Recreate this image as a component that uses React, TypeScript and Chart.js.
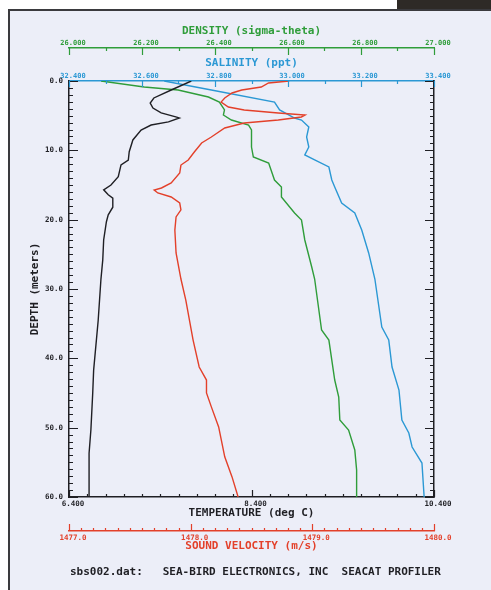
import React, { useEffect, useRef } from 'react';
import { Chart, registerables } from 'chart.js';

Chart.register(...registerables);

// ---- Data ----
const DEPTH_TICKS = [0, 10, 20, 30, 40, 50, 60];
const TEMP_TICKS = [6.4, 8.4, 10.4];
const SV_TICKS = [1477.0, 1478.0, 1479.0, 1480.0];
const DENSITY_TICKS = [26.0, 26.2, 26.4, 26.6, 26.8, 27.0];
const SALINITY_TICKS = [32.4, 32.6, 32.8, 33.0, 33.2, 33.4];

const TEMP_DEPTH = [0, 1.3, 2.45, 3.17, 3.9, 4.6, 5.2, 5.34, 5.9, 6.35, 7.07, 8.5, 10.2, 11.4, 12.1, 13.8, 15.0, 15.7, 16.4, 16.9, 18.2, 19.3, 20.3, 22.9, 25.8, 28.6, 34.5, 41.7, 45.0, 50.3, 53.7, 60];
const TEMP_VALUES = [7.74, 7.52, 7.33, 7.29, 7.32, 7.41, 7.58, 7.61, 7.49, 7.30, 7.19, 7.10, 7.06, 7.05, 6.97, 6.94, 6.86, 6.78, 6.83, 6.88, 6.88, 6.83, 6.81, 6.78, 6.77, 6.75, 6.72, 6.67, 6.66, 6.64, 6.62, 6.62];

const SAL_DEPTH = [0, 1.3, 3.03, 4.18, 5.34, 5.63, 6.63, 8.08, 9.52, 10.67, 11.39, 12.4, 14.28, 15.29, 17.6, 19.04, 21.49, 24.8, 28.56, 35.48, 37.36, 41.25, 44.57, 48.9, 50.77, 52.79, 55.1, 60];
const SAL_VALUES = [32.661, 32.790, 32.963, 32.977, 33.018, 33.037, 33.057, 33.051, 33.057, 33.046, 33.073, 33.112, 33.120, 33.128, 33.147, 33.183, 33.202, 33.221, 33.238, 33.257, 33.276, 33.285, 33.304, 33.312, 33.331, 33.340, 33.367, 33.373];

const DEN_DEPTH = [0, 0.87, 1.3, 2.31, 3.03, 4.18, 4.9, 5.63, 6.35, 7.07, 9.52, 10.96, 11.83, 14.28, 15.29, 16.73, 19.04, 20.05, 22.93, 26.83, 28.56, 35.91, 37.36, 43.13, 45.58, 48.9, 50.34, 53.22, 56.1, 60];
const DEN_VALUES = [26.088, 26.206, 26.299, 26.382, 26.412, 26.426, 26.423, 26.445, 26.492, 26.500, 26.500, 26.505, 26.547, 26.563, 26.582, 26.582, 26.618, 26.637, 26.646, 26.665, 26.673, 26.692, 26.712, 26.728, 26.739, 26.742, 26.766, 26.783, 26.788, 26.788];

const SV_DEPTH = [0, 0.29, 0.87, 1.3, 1.73, 2.45, 3.03, 3.75, 4.18, 4.62, 4.9, 5.19, 5.63, 6.06, 6.78, 8.08, 8.94, 10.24, 11.39, 12.12, 13.27, 14.71, 15.43, 15.72, 16.15, 16.73, 17.6, 18.6, 19.6, 21.5, 24.8, 28.56, 31.6, 37.36, 41.25, 43.13, 45.0, 47.0, 49.9, 54.2, 57.1, 60];
const SV_VALUES = [1478.81, 1478.64, 1478.58, 1478.42, 1478.34, 1478.28, 1478.25, 1478.31, 1478.44, 1478.72, 1478.94, 1478.91, 1478.72, 1478.44, 1478.28, 1478.17, 1478.09, 1478.03, 1477.98, 1477.92, 1477.91, 1477.84, 1477.76, 1477.70, 1477.73, 1477.84, 1477.91, 1477.92, 1477.88, 1477.87, 1477.88, 1477.92, 1477.96, 1478.02, 1478.07, 1478.13, 1478.13, 1478.17, 1478.23, 1478.28, 1478.34, 1478.39];

// ---- Styles ----
const BLACK = '#1f1f24';
const GREEN = '#2f9d3a';
const BLUE = '#2b98d4';
const RED = '#e3402a';
const MONO = "'DejaVu Sans Mono', monospace";

const TICK_SPECS = [
  { id: 'y', minor: 1, ratio: 10, minorLen: 4, majorLen: 9, color: BLACK },
  { id: 'y2', minor: 1, ratio: 10, minorLen: 4, majorLen: 9, color: BLACK },
  { id: 'x', minor: 0.2, ratio: 10, minorLen: 3, majorLen: 7, color: BLACK },
  { id: 'xSV', minor: 0.1, ratio: 10, minorLen: 3, majorLen: 7, color: RED },
  { id: 'xDen', minor: 0.1, ratio: 2, minorLen: 3, majorLen: 7, color: GREEN },
  { id: 'xSal', minor: 0.1, ratio: 2, minorLen: 3, majorLen: 6, color: BLUE },
];

const inwardTicks = {
  id: 'inwardTicks',
  afterDraw(chart: any) {
    const ctx = chart.ctx;
    ctx.save();
    ctx.lineWidth = 1.2;
    for (const spec of TICK_SPECS) {
      const s = chart.scales[spec.id];
      if (!s) continue;
      const n = Math.round((s.max - s.min) / spec.minor);
      ctx.strokeStyle = spec.color;
      ctx.beginPath();
      for (let i = 0; i <= n; i++) {
        const v = s.min + i * spec.minor;
        const len = i % spec.ratio === 0 ? spec.majorLen : spec.minorLen;
        const p = Math.round(s.getPixelForValue(v)) + 0.5;
        const pos = s.options.position;
        if (pos === 'top') {
          ctx.moveTo(p, s.bottom); ctx.lineTo(p, s.bottom + len);
        } else if (pos === 'bottom') {
          ctx.moveTo(p, s.top); ctx.lineTo(p, s.top - len);
        } else if (pos === 'left') {
          ctx.moveTo(s.right, p); ctx.lineTo(s.right + len, p);
        } else {
          ctx.moveTo(s.left, p); ctx.lineTo(s.left - len, p);
        }
      }
      ctx.stroke();
    }
    ctx.restore();
  },
};

function pairs(values: number[], depths: number[]) {
  return values.map((v, i) => ({ x: v, y: depths[i] }));
}

function hAxis(position: string, weight: number, ticksArr: number[], color: string, title: string,
  size: number, labelPad: number, titlePad: any, decimals: number, fontSize: number) {
  return {
    type: 'linear',
    position,
    weight,
    min: ticksArr[0],
    max: ticksArr[ticksArr.length - 1],
    afterBuildTicks: (s: any) => { s.ticks = ticksArr.map((v) => ({ value: v })); },
    afterFit: (s: any) => { s.height = size; },
    grid: { display: false, drawTicks: false },
    border: { display: true, color, width: 1.5 },
    ticks: {
      color,
      font: { family: MONO, size: fontSize, weight: 'bold' },
      padding: labelPad,
      labelOffset: 4,
      autoSkip: false,
      maxRotation: 0,
      minRotation: 0,
      callback: (v: any) => Number(v).toFixed(decimals),
    },
    title: {
      display: true,
      text: title,
      color,
      font: { family: MONO, size: 11, weight: 'bold' },
      padding: titlePad,
    },
  };
}

export default function App() {
  const ref = useRef<HTMLCanvasElement>(null);

  useEffect(() => {
    const line = { showLine: true, pointRadius: 0, borderWidth: 1.4, fill: false, tension: 0 };
    const chart = new Chart(ref.current as HTMLCanvasElement, {
      type: 'scatter',
      data: {
        datasets: [
          { ...line, label: 'Temperature', data: pairs(TEMP_VALUES, TEMP_DEPTH), borderColor: BLACK, xAxisID: 'x', yAxisID: 'y' },
          { ...line, label: 'Sound velocity', data: pairs(SV_VALUES, SV_DEPTH), borderColor: RED, xAxisID: 'xSV', yAxisID: 'y' },
          { ...line, label: 'Density', data: pairs(DEN_VALUES, DEN_DEPTH), borderColor: GREEN, xAxisID: 'xDen', yAxisID: 'y' },
          { ...line, label: 'Salinity', data: pairs(SAL_VALUES, SAL_DEPTH), borderColor: BLUE, xAxisID: 'xSal', yAxisID: 'y' },
        ],
      } as any,
      options: {
        responsive: false,
        animation: false,
        devicePixelRatio: 1,
        layout: { padding: { top: 24.9, bottom: 36.9, left: 28.4, right: 57 } },
        plugins: { legend: { display: false }, tooltip: { enabled: false }, title: { display: false } },
        scales: {
          x: hAxis('bottom', 0, TEMP_TICKS, BLACK, 'TEMPERATURE (deg C)', 34, 2.5, { top: 0, bottom: 11.4 }, 3, 7.5),
          xSV: hAxis('bottom', 1, SV_TICKS, RED, 'SOUND VELOCITY (m/s)', 22.1, 2.5, { top: 0, bottom: 0 }, 1, 7.5),
          xSal: hAxis('top', 0, SALINITY_TICKS, BLUE, 'SALINITY (ppt)', 33, 0.5, { top: 9, bottom: 0 }, 3, 7),
          xDen: hAxis('top', 1, DENSITY_TICKS, GREEN, 'DENSITY (sigma-theta)', 23.1, 1.1, { top: 0, bottom: 0 }, 3, 7),
          y: {
            type: 'linear',
            position: 'left',
            reverse: true,
            min: DEPTH_TICKS[0],
            max: DEPTH_TICKS[DEPTH_TICKS.length - 1],
            afterBuildTicks: (s: any) => { s.ticks = DEPTH_TICKS.map((v) => ({ value: v })); },
            afterFit: (s: any) => { s.width = 40.6; },
            grid: { display: false, drawTicks: false },
            border: { display: true, color: BLACK, width: 1.5 },
            ticks: {
              color: BLACK,
              font: { family: MONO, size: 7.5, weight: 'bold' },
              padding: 6,
              autoSkip: false,
              callback: (v: any) => Number(v).toFixed(1),
            },
            title: {
              display: true,
              text: 'DEPTH (meters)',
              color: BLACK,
              font: { family: MONO, size: 11, weight: 'bold' },
              padding: { top: 0, bottom: 0 },
            },
          },
          y2: {
            type: 'linear',
            position: 'right',
            reverse: true,
            min: DEPTH_TICKS[0],
            max: DEPTH_TICKS[DEPTH_TICKS.length - 1],
            afterFit: (s: any) => { s.width = 0; },
            grid: { display: false, drawTicks: false },
            border: { display: true, color: BLACK, width: 1.5 },
            ticks: { display: false },
          },
        } as any,
      },
      plugins: [inwardTicks],
    } as any);
    return () => chart.destroy();
  }, []);

  return (
    <div style={{ position: 'absolute', left: 0, top: 0, width: 491, height: 590, background: '#ffffff', overflow: 'hidden' }}>
      <div style={{ position: 'absolute', left: 397, top: 0, width: 94, height: 9, background: '#2e2a26' }} />
      <div style={{ position: 'absolute', left: 8, top: 9, right: 0, bottom: 0, borderLeft: '2px solid #3a3a3e', borderTop: '2px solid #3a3a3e', background: '#eceef8' }} />
      <canvas ref={ref} width={491} height={590} style={{ position: 'absolute', left: 0, top: 0, width: 491, height: 590 }} />
      <div style={{ position: 'absolute', left: 70, top: 565, fontFamily: MONO, fontSize: 11, fontWeight: 'bold', lineHeight: '13px', whiteSpace: 'pre', color: BLACK }}>
        {'sbs002.dat:   SEA-BIRD ELECTRONICS, INC  SEACAT PROFILER'}
      </div>
    </div>
  );
}
